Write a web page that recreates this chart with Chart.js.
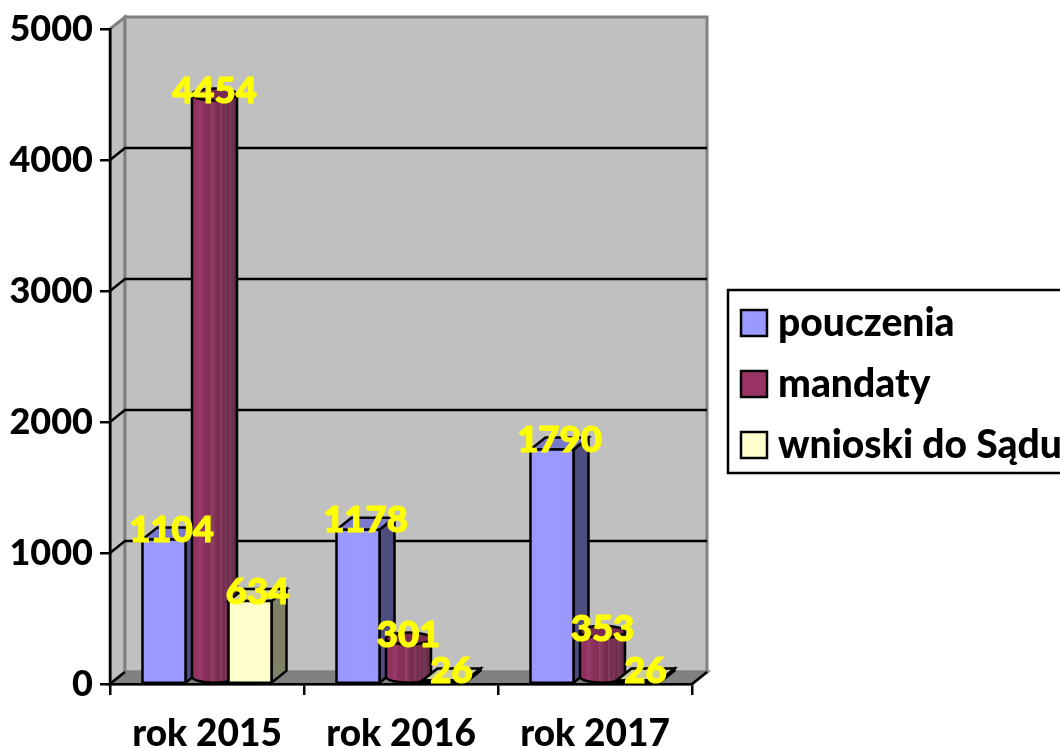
<!DOCTYPE html>
<html><head><meta charset="utf-8">
<style>html,body{margin:0;padding:0;background:#fff;overflow:hidden}canvas{display:block}</style>
<script src="https://cdn.jsdelivr.net/npm/chart.js@4"></script>
</head><body>
<canvas id="c" width="1060" height="748"></canvas>
<script>
const categories = ['rok 2015', 'rok 2016', 'rok 2017'];
const pouczenia = [1104, 1178, 1790];
const mandaty = [4454, 301, 353];
const wnioski = [634, 26, 26];
const yTicks = [0, 1000, 2000, 3000, 4000, 5000];

const DX = 15, DY = -12;
const FONT = '"Lato", sans-serif';
const palette = [
  {front:'#9999ff', side:'#4d4d80', top:'#7a7acc'},
  {front:'#993366', side:'#4d1a33', top:'#7a2952'},
  {front:'#ffffcc', side:'#808066', top:'#ccccA3'}
];

function poly(ctx, pts, fill){
  ctx.beginPath();
  pts.forEach((p,i)=> i?ctx.lineTo(p[0],p[1]):ctx.moveTo(p[0],p[1]));
  ctx.closePath();
  ctx.fillStyle = fill; ctx.fill();
  ctx.stroke();
}
function drawBox(ctx, el, c){
  const l = el.x-el.width/2, r = el.x+el.width/2, t = el.y, b = el.base;
  ctx.lineWidth = 2.5; ctx.strokeStyle = '#000'; ctx.lineJoin='miter';
  poly(ctx, [[r,b],[r+DX,b+DY],[r+DX,t+DY],[r,t]], c.side);
  poly(ctx, [[l,t],[l+DX,t+DY],[r+DX,t+DY],[r,t]], c.top);
  poly(ctx, [[l,t],[r,t],[r,b],[l,b]], c.front);
}
function drawCylinder(ctx, el, c){
  const cx = el.x+DX/2, rx = el.width/2+1, ry = -DY/2;
  const t = el.y+DY/2, b = el.base+DY/2;
  const g = ctx.createLinearGradient(cx-rx,0,cx+rx,0);
  [[0,'#8f3160'],[.16,'#933263'],[.17,'#9a3f6b'],[.3,'#8a2f5c'],[.42,'#832e57'],[.43,'#8f4469'],[.55,'#7c2b52'],
   [.62,'#762a4f'],[.63,'#854062'],[.72,'#70274a'],[.73,'#7e3e5d'],[.82,'#692547'],[.83,'#763a57'],[1,'#5f2240']]
   .forEach(s=>g.addColorStop(s[0],s[1]));
  ctx.lineWidth = 2.5; ctx.strokeStyle = '#000';
  ctx.beginPath();
  ctx.moveTo(cx-rx,t);
  ctx.lineTo(cx-rx,b);
  ctx.ellipse(cx,b,rx,ry,0,Math.PI,0,true);
  ctx.lineTo(cx+rx,t);
  ctx.closePath();
  ctx.fillStyle = g; ctx.fill(); ctx.stroke();
  ctx.beginPath();
  ctx.ellipse(cx,t,rx,ry,0,0,Math.PI*2);
  ctx.fillStyle = c.top; ctx.fill(); ctx.stroke();
}

const LEG = {left:719, top:281.5, pad:22, font:39, swatch:26};
const walls3d = {
  id:'walls3d',
  afterLayout(chart){
    const lg = chart.legend;
    lg.left = LEG.left; lg.right = 1400; lg.top = LEG.top; lg.bottom = 748;
    lg.adjustHitBoxes && lg.adjustHitBoxes();
  },
  beforeDraw(chart){
    const {ctx, chartArea:a, scales:{y}} = chart;
    const L=a.left, R=a.right, T=a.top, B=a.bottom;
    ctx.save();
    ctx.lineWidth = 3; ctx.strokeStyle = '#808080';
    poly(ctx, [[L,T],[L+DX,T+DY],[L+DX,B+DY],[L,B]], '#c0c0c0');
    poly(ctx, [[L+DX,T+DY],[R+DX,T+DY],[R+DX,B+DY],[L+DX,B+DY]], '#c0c0c0');
    poly(ctx, [[L,B],[L+DX,B+DY],[R+DX,B+DY],[R,B]], '#808080');
    ctx.lineWidth = 2.5; ctx.strokeStyle='#000';
    ctx.beginPath();
    yTicks.forEach(v=>{
      if(v===5000) return;
      const p = y.getPixelForValue(v);
      ctx.moveTo(L,p); ctx.lineTo(L+DX,p+DY);
      if(v>0) ctx.lineTo(R+DX,p+DY);
    });
    ctx.moveTo(R,B); ctx.lineTo(R+DX,B+DY);
    ctx.stroke();
    ctx.restore();
  },
  beforeDatasetDraw(){ return false; },
  afterDatasetsDraw(chart){
    const ctx = chart.ctx;
    ctx.save();
    chart.data.datasets.forEach((ds,i)=>{
      chart.getDatasetMeta(i).data.forEach(el=>{
        if(i===1) drawCylinder(ctx, el, palette[i]); else drawBox(ctx, el, palette[i]);
      });
    });
    ctx.font = '900 36.5px '+FONT;
    ctx.fillStyle = '#ffff00';
    ctx.strokeStyle = '#ffff00'; ctx.lineWidth = 1.2;
    ctx.textAlign='center'; ctx.textBaseline='middle';
    chart.data.datasets.forEach((ds,i)=>{
      chart.getDatasetMeta(i).data.forEach((el,j)=>{
        ctx.fillText(String(ds.data[j]), el.x+DX/2, el.y+DY+3);
        ctx.strokeText(String(ds.data[j]), el.x+DX/2, el.y+DY+3);
      });
    });
    ctx.restore();
  },
  afterDraw(chart){
    const ctx = chart.ctx;
    ctx.save();
    ctx.strokeStyle='#000'; ctx.lineWidth=2.5;
    ctx.strokeRect(728,290,400,183);
    chart.data.datasets.forEach((ds,i)=>{
      const cy = LEG.top+LEG.pad+LEG.font/2+i*(LEG.pad+LEG.font);
      ctx.fillStyle = ds.backgroundColor;
      ctx.fillRect(LEG.left+LEG.pad, cy-LEG.swatch/2, LEG.swatch, LEG.swatch);
      ctx.strokeRect(LEG.left+LEG.pad, cy-LEG.swatch/2, LEG.swatch, LEG.swatch);
    });
    ctx.restore();
  }
};

new Chart(document.getElementById('c'), {
  type:'bar',
  data:{labels:categories, datasets:[
    {label:'pouczenia', data:pouczenia, backgroundColor:palette[0].front, borderColor:'#000', borderWidth:2},
    {label:'mandaty', data:mandaty, backgroundColor:palette[1].front, borderColor:'#000', borderWidth:2},
    {label:'wnioski do Sądu', data:wnioski, backgroundColor:palette[2].front, borderColor:'#000', borderWidth:2}
  ]},
  options:{
    responsive:false, animation:false,
    events:[],
    layout:{padding:{left:0,top:29,right:368,bottom:0}},
    categoryPercentage:0.665, barPercentage:1,
    scales:{
      x:{
        afterFit(s){ s.height = 64; },
        grid:{drawOnChartArea:false, color:'#000', lineWidth:2.5, tickLength:11},
        border:{color:'#000', width:2.5},
        ticks:{color:'#000', font:{family:FONT, size:37, weight:'900'}, padding:17, maxRotation:0}
      },
      y:{
        min:0,max:5000,
        afterFit(s){ s.width = 110; },
        afterBuildTicks(s){ s.ticks = yTicks.map(v=>({value:v})); },
        grid:{drawOnChartArea:false, color:'#000', lineWidth:2.5, tickLength:10},
        border:{color:'#000', width:2.5},
        ticks:{color:'#000', font:{family:FONT, size:36, weight:'900'}, padding:7, callback:v=>String(v)}
      }
    },
    plugins:{
      tooltip:{enabled:false},
      title:{display:false},
      legend:{
        position:'chartArea', align:'start',
        labels:{
          boxWidth:17.5, boxHeight:26, padding:LEG.pad, color:'#000',
          font:{family:FONT, size:LEG.font, weight:'900'}
        }
      }
    }
  },
  plugins:[walls3d]
});
</script>
</body></html>
